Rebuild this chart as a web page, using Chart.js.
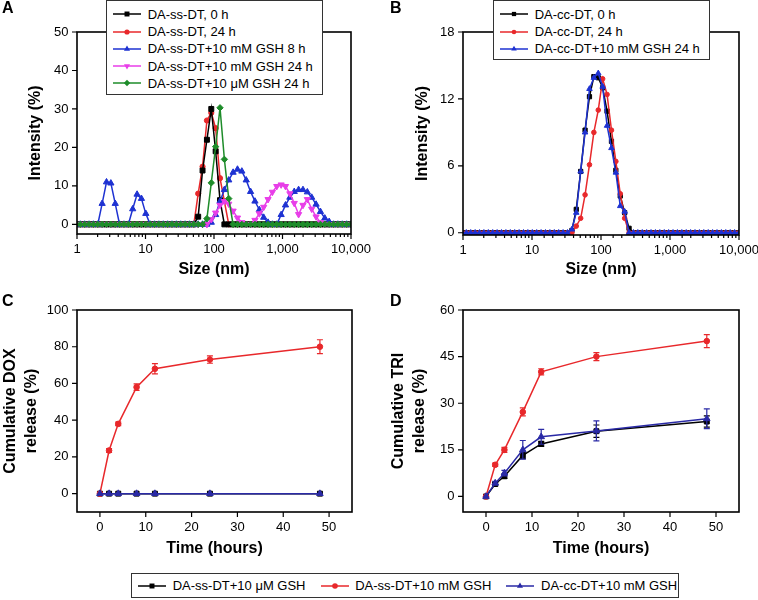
<!DOCTYPE html>
<html>
<head>
<meta charset="utf-8">
<script src="https://cdn.jsdelivr.net/npm/chart.js@4.4.1/dist/chart.umd.min.js"></script>
<style>
  body { margin: 0; background: #fff; }
  #fig { position: relative; width: 758px; height: 600px; overflow: hidden; font-family: "Liberation Sans", Arial, sans-serif; color: #000; }
  #fig canvas { position: absolute; }
  .tag { position: absolute; font: bold 16px/16px "Liberation Sans", Arial, sans-serif; }
  .legend { position: absolute; background: #fff; border: 1px solid #333; box-sizing: border-box; font-size: 13px; }
  .legend .row { display: flex; align-items: center; height: 17.3px; white-space: nowrap; }
  .legend svg { flex: none; margin-right: 6.7px; }
  #legBottom { display: flex; align-items: center; padding-left: 6px; }
  #legBottom .item { display: flex; align-items: center; white-space: nowrap; margin-right: 15px; }
  #legBottom svg { margin-right: 6.7px; }
</style>
</head>
<body>
<div id="fig">
  <canvas id="chartA" width="379" height="290" style="left:0;top:0"></canvas>
  <canvas id="chartB" width="379" height="290" style="left:379px;top:0"></canvas>
  <canvas id="chartC" width="379" height="280" style="left:0;top:290px"></canvas>
  <canvas id="chartD" width="379" height="280" style="left:379px;top:290px"></canvas>
  <div class="tag" style="left:2px;top:0">A</div>
  <div class="tag" style="left:390px;top:0">B</div>
  <div class="tag" style="left:2px;top:293px">C</div>
  <div class="tag" style="left:390px;top:293px">D</div>
  <div class="legend" id="legA" style="left:106px;top:0;width:217px;height:95px;padding:4.6px 0 0 6px"></div>
  <div class="legend" id="legB" style="left:493px;top:0;width:217px;height:60px;padding:4.6px 0 0 6px"></div>
  <div class="legend" id="legBottom" style="left:131px;top:573px;width:548px;height:25px"></div>
</div>
<script>
// size bins (nm) used by the DLS distributions in A and B
const sizeBins = [
  0.965, 1.117, 1.294, 1.499, 1.736, 2.010, 2.328, 2.696, 3.122, 3.615, 4.187, 4.849, 5.615, 6.503, 7.531, 8.721,
  10.10, 11.70, 13.54, 15.69, 18.17, 21.04, 24.36, 28.21, 32.67, 37.84, 43.82, 50.75, 58.77, 68.06, 78.82, 91.28,
  105.7, 122.4, 141.8, 164.2, 190.1, 220.2, 255.0, 295.3, 342.0, 396.1, 458.7, 531.2, 615.1, 712.4, 825.0, 955.4,
  1106, 1281, 1484, 1718, 1990, 2305, 2669, 3091, 3580, 4145, 4801, 5560, 6439, 7456, 8635, 10000
];

// panel A, intensity (%)
const ssDT0h = [
  0, 0, 0, 0, 0, 0, 0, 0, 0, 0, 0, 0, 0, 0, 0, 0,
  0, 0, 0, 0, 0, 0, 0, 0, 0, 0, 0, 0, 2, 14, 22, 30,
  19, 6.3, 0, 0, 0, 0, 0, 0, 0, 0, 0, 0, 0, 0, 0, 0,
  0, 0, 0, 0, 0, 0, 0, 0, 0, 0, 0, 0, 0, 0, 0, 0
];
const ssDT24h = [
  0, 0, 0, 0, 0, 0, 0, 0, 0, 0, 0, 0, 0, 0, 0, 0,
  0, 0, 0, 0, 0, 0, 0, 0, 0, 0, 0, 0, 8, 15, 27, 29,
  25, 12, 6, 0, 0, 0, 0, 0, 0, 0, 0, 0, 0, 0, 0, 0,
  0, 0, 0, 0, 0, 0, 0, 0, 0, 0, 0, 0, 0, 0, 0, 0
];
const ssGSH8h = [
  0, 0, 0, 0, 0, 0, 5.4, 11, 10.7, 5.4, 0, 0, 0, 4, 7.8, 6.7,
  2.8, 0, 0, 0, 0, 0, 0, 0, 0, 0, 0, 0, 0, 0, 0, 0.5,
  2.5, 6, 9, 11.5, 13.5, 14.3, 13.8, 11.5, 8.5, 6, 3.8, 1.8, 0.5, 0, 0, 2.5,
  5, 7, 8.5, 9, 9, 8.4, 7, 5.2, 3.3, 1.6, 0.7, 0, 0, 0, 0, 0
];
const ssGSH24h = [
  0, 0, 0, 0, 0, 0, 0, 0, 0, 0, 0, 0, 0, 0, 0, 0,
  0, 0, 0, 0, 0, 0, 0, 0, 0, 0, 0, 0, 0, 0, 0, 1.3,
  3, 5, 6, 5.3, 3.5, 1.7, 0.5, 0, 0, 1.1, 2.8, 4.5, 6.5, 8.4, 9.9, 10.3,
  9.9, 8, 5.5, 2.6, 5, 6.5, 4, 2, 0.5, 0, 0, 0, 0, 0, 0, 0
];
const ssLowGSH24h = [
  0, 0, 0, 0, 0, 0, 0, 0, 0, 0, 0, 0, 0, 0, 0, 0,
  0, 0, 0, 0, 0, 0, 0, 0, 0, 0, 0, 0, 0, 0, 1.5, 10.8,
  20.2, 30.3, 16.9, 6.7, 0, 0, 0, 0, 0, 0, 0, 0, 0, 0, 0, 0,
  0, 0, 0, 0, 0, 0, 0, 0, 0, 0, 0, 0, 0, 0, 0, 0
];

// panel B, intensity (%)
const ccDT0h = [
  0, 0, 0, 0, 0, 0, 0, 0, 0, 0, 0, 0, 0, 0, 0, 0,
  0, 0, 0, 0, 0, 0, 0, 0, 0, 0.2, 2.1, 5.5, 9.2, 12.2, 14, 13.9,
  13, 10.9, 8.2, 5.6, 3.3, 1.8, 0.4, 0, 0, 0, 0, 0, 0, 0, 0, 0,
  0, 0, 0, 0, 0, 0, 0, 0, 0, 0, 0, 0, 0, 0, 0, 0
];
const ccDT24h = [
  0, 0, 0, 0, 0, 0, 0, 0, 0, 0, 0, 0, 0, 0, 0, 0,
  0, 0, 0, 0, 0, 0, 0, 0, 0, 0, 0.6, 1.3, 3.4, 6.1, 9, 11,
  13.8, 12.4, 9.2, 6.4, 3.5, 1.3, 0, 0, 0, 0, 0, 0, 0, 0, 0, 0,
  0, 0, 0, 0, 0, 0, 0, 0, 0, 0, 0, 0, 0, 0, 0, 0
];
const ccGSH24h = [
  0, 0, 0, 0, 0, 0, 0, 0, 0, 0, 0, 0, 0, 0, 0, 0,
  0, 0, 0, 0, 0, 0, 0, 0, 0, 0.3, 1.8, 5.5, 9, 12.9, 13.9, 14.3,
  13.1, 9.6, 7.6, 5.4, 2.4, 1.9, 0, 0, 0, 0, 0, 0, 0, 0, 0, 0,
  0, 0, 0, 0, 0, 0, 0, 0, 0, 0, 0, 0, 0, 0, 0, 0
];

// panels C and D, release over time
const timesH = [0, 2, 4, 8, 12, 24, 48];
const doxSsLow = [0, 0, 0, 0, 0, 0, 0];
const doxSsHigh = [0, 23.5, 38, 58, 68, 73, 80];
const doxSsHighErr = [0, 1, 1, 1.8, 2.8, 2, 3.8];
const doxCcHigh = [0, 0, 0, 0, 0, 0, 0];
const triSsLow = [0, 4, 6.5, 13.2, 16.9, 21, 24.1];
const triSsLowErr = [0, 0.5, 0.7, 1, 0.8, 2, 1.8];
const triSsHigh = [0, 10.2, 15, 27.2, 40.1, 45, 50];
const triSsHighErr = [0, 0.5, 0.8, 1.3, 1, 1.3, 2.1];
const triCcHigh = [0, 4.3, 7.5, 15, 19.2, 21.1, 25];
const triCcHighErr = [0, 0.6, 0.9, 3, 2.4, 3.2, 3.2];

// labels and ticks
const namesA = ["DA-ss-DT, 0 h", "DA-ss-DT, 24 h", "DA-ss-DT+10 mM GSH 8 h", "DA-ss-DT+10 mM GSH 24 h", "DA-ss-DT+10 μM GSH 24 h"];
const namesB = ["DA-cc-DT, 0 h", "DA-cc-DT, 24 h", "DA-cc-DT+10 mM GSH 24 h"];
const namesRelease = ["DA-ss-DT+10 μM GSH", "DA-ss-DT+10 mM GSH", "DA-cc-DT+10 mM GSH"];
const yTicksA = [0, 10, 20, 30, 40, 50];
const yTicksB = [0, 6, 12, 18];
const yTicksC = [0, 20, 40, 60, 80, 100];
const yTicksD = [0, 15, 30, 45, 60];
const xTicksTime = [0, 10, 20, 30, 40, 50];

const FONT = '"Liberation Sans", Arial, sans-serif';
Chart.defaults.font.family = FONT;
Chart.defaults.color = '#000';

const BLACK = '#000000', RED = '#e8282b', BLUE = '#1e32d2', MAGENTA = '#e83ee8', GREEN = '#1e8c2a', NAVY = '#2a2aa6';

const isPow10 = v => Math.abs(Math.log10(v) - Math.round(Math.log10(v))) < 1e-6;

// box frame plus outward ticks (short ones for log minors)
const frameTicks = {
  id: 'frameTicks',
  afterDatasetsDraw(chart) {
    const { ctx, chartArea: a } = chart;
    const x = chart.scales.x, y = chart.scales.y;
    ctx.save();
    ctx.strokeStyle = '#000';
    ctx.lineWidth = 1.2;
    ctx.beginPath();
    x.ticks.forEach(t => {
      const px = x.getPixelForValue(t.value);
      if (px < a.left - 1 || px > a.right + 1) return;
      const major = x.type !== 'logarithmic' || isPow10(t.value);
      ctx.moveTo(px, a.bottom);
      ctx.lineTo(px, a.bottom + (major ? 5 : 3));
    });
    y.ticks.forEach(t => {
      const py = y.getPixelForValue(t.value);
      ctx.moveTo(a.left, py);
      ctx.lineTo(a.left - 5, py);
    });
    ctx.stroke();
    ctx.lineWidth = 1.6;
    ctx.strokeRect(a.left, a.top, a.right - a.left, a.bottom - a.top);
    ctx.restore();
  }
};

const errorBars = {
  id: 'errorBars',
  afterDatasetDraw(chart, args) {
    const ds = chart.data.datasets[args.index];
    if (!ds.errors) return;
    const y = chart.scales.y, ctx = chart.ctx;
    ctx.save();
    ctx.strokeStyle = ds.borderColor;
    ctx.lineWidth = 1.2;
    ctx.beginPath();
    args.meta.data.forEach((pt, i) => {
      const e = ds.errors[i];
      if (!e) return;
      const v = ds.data[i].y;
      const top = y.getPixelForValue(v + e), bot = y.getPixelForValue(v - e);
      ctx.moveTo(pt.x, top); ctx.lineTo(pt.x, bot);
      ctx.moveTo(pt.x - 3, top); ctx.lineTo(pt.x + 3, top);
      ctx.moveTo(pt.x - 3, bot); ctx.lineTo(pt.x + 3, bot);
    });
    ctx.stroke();
    ctx.restore();
  }
};

function series(label, xs, values, color, style, radius, order, extra) {
  return Object.assign({
    label: label,
    data: xs.map((x, i) => ({ x: x, y: values[i] })),
    borderColor: color,
    backgroundColor: color,
    pointBackgroundColor: color,
    pointBorderColor: color,
    pointBorderWidth: 1,
    borderWidth: 1.5,
    pointStyle: style,
    pointRadius: radius,
    tension: 0,
    order: order
  }, extra || {});
}

function makeChart(id, datasets, o) {
  const titleFont = { family: FONT, size: 16, weight: 'bold', lineHeight: 1.3 };
  const xAxis = o.log ? {
    type: 'logarithmic', min: 1, max: 10000,
    ticks: { autoSkip: false, maxRotation: 0, padding: 8, font: { size: 13 },
      callback: v => isPow10(v) ? Number(v).toLocaleString('en-US') : '' }
  } : {
    type: 'linear', min: -5, max: 55,
    afterBuildTicks: s => { s.ticks = xTicksTime.map(v => ({ value: v })); },
    ticks: { autoSkip: false, maxRotation: 0, padding: 8, font: { size: 13 } }
  };
  Object.assign(xAxis, {
    grid: { display: false, drawTicks: false },
    border: { display: false },
    title: { display: true, text: o.xTitle, font: titleFont, padding: { top: 0, bottom: o.xTitlePad } },
    afterFit: s => { s.height = o.xH; if (o.noRightPad) s.paddingRight = 0; }
  });
  return new Chart(document.getElementById(id), {
    type: 'line',
    data: { datasets: datasets },
    options: {
      responsive: false,
      animation: false,
      events: [],
      layout: { padding: { top: o.top, right: o.right, left: 0, bottom: 0 } },
      plugins: { legend: { display: false }, tooltip: { enabled: false } },
      scales: {
        x: xAxis,
        y: {
          type: 'linear', min: o.yMin, max: o.yMax,
          afterBuildTicks: s => { s.ticks = o.yTicks.map(v => ({ value: v })); },
          grid: { display: false, drawTicks: false },
          border: { display: false },
          ticks: { padding: 8.5, font: { size: 13 } },
          title: { display: true, text: o.yTitle, font: titleFont, padding: { top: o.yTitlePad, bottom: 0 } },
          afterFit: s => { s.width = o.left; }
        }
      }
    },
    plugins: [errorBars, frameTicks]
  });
}

const chartA = makeChart('chartA', [
  series(namesA[0], sizeBins, ssDT0h, BLACK, 'rect', 3.5, 3),
  series(namesA[1], sizeBins, ssDT24h, RED, 'circle', 2.6, 4),
  series(namesA[2], sizeBins, ssGSH8h, BLUE, 'triangle', 3.6, 2),
  series(namesA[3], sizeBins, ssGSH24h, MAGENTA, 'triangle', 3.6, 1, { pointRotation: 180 }),
  series(namesA[4], sizeBins, ssLowGSH24h, GREEN, 'rectRot', 3.2, 0)
], { log: true, left: 77, right: 28, top: 32, xH: 56, yMin: -2.5, yMax: 50, yTicks: yTicksA,
     xTitle: 'Size (nm)', xTitlePad: 10, yTitle: 'Intensity (%)', yTitlePad: 25 });

const chartB = makeChart('chartB', [
  series(namesB[0], sizeBins, ccDT0h, BLACK, 'rect', 3, 2),
  series(namesB[1], sizeBins, ccDT24h, RED, 'circle', 2.3, 1),
  series(namesB[2], sizeBins, ccGSH24h, BLUE, 'triangle', 3.2, 0)
], { log: true, left: 84, right: 19, top: 32, xH: 55, noRightPad: true, yMin: -0.2, yMax: 18, yTicks: yTicksB,
     xTitle: 'Size (nm)', xTitlePad: 10, yTitle: 'Intensity (%)', yTitlePad: 33.5 });

const chartC = makeChart('chartC', [
  series(namesRelease[0], timesH, doxSsLow, BLACK, 'rect', 3.5, 2),
  series(namesRelease[1], timesH, doxSsHigh, RED, 'circle', 2.8, 1, { errors: doxSsHighErr }),
  series(namesRelease[2], timesH, doxCcHigh, NAVY, 'triangle', 3.8, 0)
], { log: false, left: 77, right: 27, top: 20, xH: 58, yMin: -10, yMax: 100, yTicks: yTicksC,
     xTitle: 'Time (hours)', xTitlePad: 11, yTitle: ['Cumulative DOX', 'release (%)'], yTitlePad: 0 });

const chartD = makeChart('chartD', [
  series(namesRelease[0], timesH, triSsLow, BLACK, 'rect', 3.5, 2, { errors: triSsLowErr }),
  series(namesRelease[1], timesH, triSsHigh, RED, 'circle', 2.8, 1, { errors: triSsHighErr }),
  series(namesRelease[2], timesH, triCcHigh, NAVY, 'triangle', 3.8, 0, { errors: triCcHighErr })
], { log: false, left: 84, right: 19, top: 20, xH: 58, yMin: -5, yMax: 60, yTicks: yTicksD,
     xTitle: 'Time (hours)', xTitlePad: 11, yTitle: ['Cumulative TRI', 'release (%)'], yTitlePad: 8.9 });

// legend samples: line with the dataset's marker in the middle
function sample(ds) {
  const c = ds.borderColor, cx = 14, cy = 6;
  const r = Math.min(ds.pointRadius, 3.5);
  let m;
  if (ds.pointStyle === 'rect') {
    const h = r * Math.SQRT1_2;
    m = `<rect x="${cx - h}" y="${cy - h}" width="${2 * h}" height="${2 * h}" fill="${c}"/>`;
  } else if (ds.pointStyle === 'circle') {
    m = `<circle cx="${cx}" cy="${cy}" r="${r}" fill="${c}"/>`;
  } else if (ds.pointStyle === 'rectRot') {
    m = `<polygon points="${cx},${cy - r} ${cx + r},${cy} ${cx},${cy + r} ${cx - r},${cy}" fill="${c}"/>`;
  } else {
    const s = ds.pointRotation === 180 ? -1 : 1;
    const w = r * 0.866;
    m = `<polygon points="${cx},${cy - s * r} ${cx + w},${cy + s * r / 2} ${cx - w},${cy + s * r / 2}" fill="${c}"/>`;
  }
  return `<svg width="28" height="12"><line x1="0" y1="${cy}" x2="28" y2="${cy}" stroke="${c}" stroke-width="1.5"/>${m}</svg>`;
}

function fillLegend(id, datasets, cls) {
  document.getElementById(id).innerHTML = datasets
    .map(ds => `<div class="${cls}">${sample(ds)}<span>${ds.label}</span></div>`).join('');
}

fillLegend('legA', chartA.data.datasets, 'row');
fillLegend('legB', chartB.data.datasets, 'row');
fillLegend('legBottom', chartD.data.datasets, 'item');
</script>
</body>
</html>
